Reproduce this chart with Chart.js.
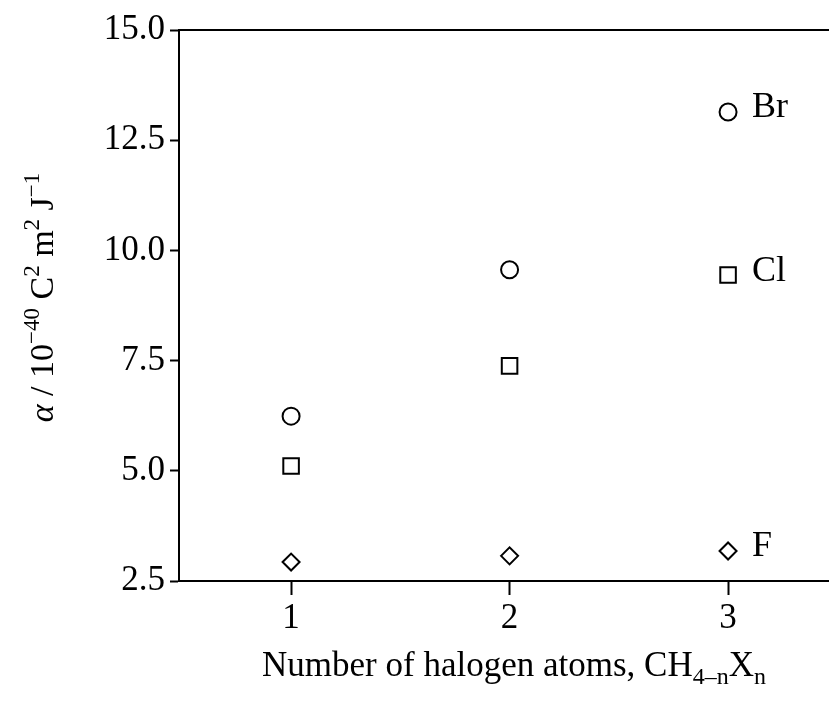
<!DOCTYPE html>
<html>
<head>
<meta charset="utf-8">
<script src="https://cdn.jsdelivr.net/npm/chart.js@4"></script>
<style>
  html, body { margin: 0; padding: 0; background: #fff; }
  #wrap { width: 829px; height: 711px; }
</style>
</head>
<body>
<div id="wrap"><canvas id="myChart" width="829" height="711"></canvas></div>
<script>
// values
const nAtoms = [1, 2, 3];
const seriesNames = ['Br', 'Cl', 'F'];
const brValues = [6.24, 9.56, 13.14];
const clValues = [5.11, 7.38, 9.44];
const fValues = [2.93, 3.07, 3.18];
const yTicks = [2.5, 5.0, 7.5, 10.0, 12.5, 15.0];

const serif = '"Liberation Serif", "DejaVu Serif", serif';

function pts(values) {
    return values.map(function(v, i) { return { x: nAtoms[i], y: v }; });
}

// draws the frame top line, the series names and the axis titles
const extras = {
    id: 'extras',
    afterDraw(chart) {
        const ctx = chart.ctx;
        const area = chart.chartArea;
        ctx.save();
        ctx.strokeStyle = '#000';
        ctx.lineWidth = 2;
        ctx.beginPath();
        ctx.moveTo(area.left, area.top);
        ctx.lineTo(area.right, area.top);
        ctx.stroke();

        ctx.fillStyle = '#000';
        ctx.textBaseline = 'middle';
        ctx.textAlign = 'left';
        ctx.font = '36px ' + serif;
        chart.data.datasets.forEach(function(ds, i) {
            const meta = chart.getDatasetMeta(i);
            const last = meta.data[meta.data.length - 1];
            ctx.fillText(seriesNames[i], last.x + 24, last.y - 4);
        });

        // x title with subscripts
        const parts = [
            ['Number of halogen atoms, CH', 0],
            ['4\u2013n', 1],
            ['X', 0],
            ['n', 1]
        ];
        drawRich(ctx, parts, (area.left + area.right) / 2 + 10, 664, 35);

        // y title with superscripts, rotated
        ctx.save();
        ctx.translate(42, (area.top + area.bottom) / 2 - 8);
        ctx.rotate(-Math.PI / 2);
        const yParts = [
            ['\u03b1', 2],
            [' / 10', 0],
            ['\u221240', -1],
            [' C', 0],
            ['2', -1],
            [' m', 0],
            ['2', -1],
            [' J', 0],
            ['\u22121', -1]
        ];
        drawRich(ctx, yParts, 0, 0, 34);
        ctx.restore();
        ctx.restore();
    }
};

// kind: 0 normal, 1 subscript, -1 superscript, 2 italic
function drawRich(ctx, parts, cx, cy, size) {
    const small = Math.round(size * 0.68);
    function fontFor(kind) {
        if (kind === 1 || kind === -1) return small + 'px ' + serif;
        if (kind === 2) return 'italic ' + size + 'px ' + serif;
        return size + 'px ' + serif;
    }
    let total = 0;
    parts.forEach(function(p) {
        ctx.font = fontFor(p[1]);
        total += ctx.measureText(p[0]).width;
    });
    let x = cx - total / 2;
    ctx.textAlign = 'left';
    ctx.textBaseline = 'alphabetic';
    const base = cy + size * 0.33;
    parts.forEach(function(p) {
        ctx.font = fontFor(p[1]);
        let y = base;
        if (p[1] === 1) y = base + size * 0.25;
        if (p[1] === -1) y = base - size * 0.42;
        ctx.fillText(p[0], x, y);
        x += ctx.measureText(p[0]).width;
    });
}

const common = {
    borderColor: '#000',
    backgroundColor: 'rgba(0,0,0,0)',
    borderWidth: 2,
    showLine: false
};

const myChart = new Chart(
    document.getElementById('myChart'), {
        type: 'scatter',
        data: {
            datasets: [
                Object.assign({ label: seriesNames[0], data: pts(brValues), pointStyle: 'circle', pointRadius: 8.5 }, common),
                Object.assign({ label: seriesNames[1], data: pts(clValues), pointStyle: 'rect', pointRadius: 11 }, common),
                Object.assign({ label: seriesNames[2], data: pts(fValues), pointStyle: 'rectRot', pointRadius: 8.5 }, common)
            ]
        },
        options: {
            responsive: false,
            animation: false,
            layout: { autoPadding: false, padding: { top: 30, right: 0, left: 0, bottom: 0 } },
            plugins: {
                legend: { display: false },
                tooltip: { enabled: false }
            },
            scales: {
                x: {
                    type: 'linear',
                    min: 0.487,
                    max: 3.462,
                    afterFit: function(scale) { scale.height = 130; },
                    afterBuildTicks: function(scale) {
                        scale.ticks = nAtoms.map(function(v) { return { value: v }; });
                    },
                    border: { color: '#000', width: 2 },
                    grid: { drawOnChartArea: false, drawTicks: true, tickLength: 14, tickWidth: 2, tickColor: '#000' },
                    ticks: {
                        color: '#000',
                        padding: 3,
                        font: { family: serif, size: 35 },
                        callback: function(v) { return String(v); }
                    }
                },
                y: {
                    min: 2.5,
                    max: 15,
                    afterFit: function(scale) { scale.width = 179; },
                    afterBuildTicks: function(scale) {
                        scale.ticks = yTicks.map(function(v) { return { value: v }; });
                    },
                    border: { color: '#000', width: 2 },
                    grid: { drawOnChartArea: false, drawTicks: true, tickLength: 9, tickWidth: 2, tickColor: '#000' },
                    ticks: {
                        color: '#000',
                        padding: 5,
                        font: { family: serif, size: 35 },
                        callback: function(v) { return v.toFixed(1); }
                    }
                }
            }
        },
        plugins: [extras]
    }
);
</script>
</body>
</html>
